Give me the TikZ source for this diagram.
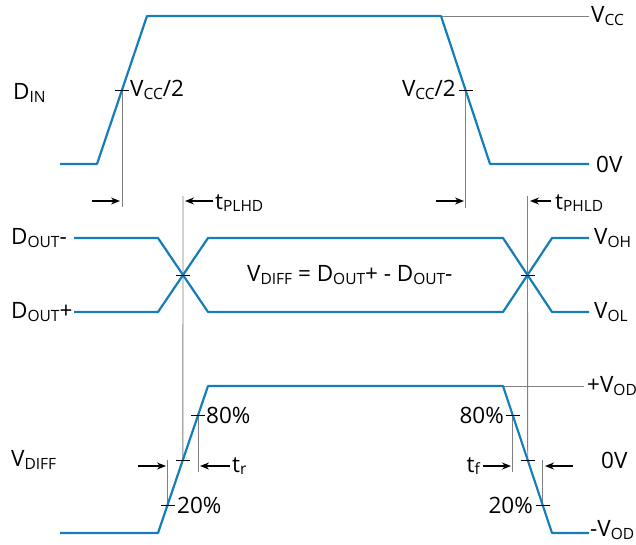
\documentclass[tikz,border=0pt]{standalone}
\usepackage{fontspec}
\setmainfont{Open Sans}
\usetikzlibrary{arrows.meta}
\definecolor{wave}{RGB}{22,125,185}
\newcommand\subtxt[1]{\raisebox{-2.5pt}{\fontsize{15.5}{16}\selectfont #1}}

\begin{document}
\begin{tikzpicture}[x=1pt,y=-1pt,line join=round,
  sig/.style={wave,line width=2.2pt},
  ref/.style={gray,line width=0.9pt},
  tickm/.style={black,line width=0.9pt},
  dim/.style={-{Stealth[length=9pt,width=7pt]},line width=1.3pt},
  lbl/.style={font=\fontsize{22.5}{25}\selectfont,inner sep=1pt}]
  \useasboundingbox (0,0) rectangle (636,544);
  % input
  \coordinate (I0) at (60,164);
  \coordinate (I1) at (97,164);
  \coordinate (I2) at (147,16);
  \coordinate (I3) at (441,16);
  \coordinate (I4) at (490,164);
  \coordinate (I5) at (589,164);
  \coordinate (Ha) at (122,90);
  \coordinate (Hb) at (465.5,90);
  % outputs
  \coordinate (A0) at (74,238);
  \coordinate (A1) at (158,238);
  \coordinate (A2) at (208,312);
  \coordinate (A3) at (503,312);
  \coordinate (A4) at (552,238);
  \coordinate (A5) at (589,238);
  \coordinate (B0) at (74,312);
  \coordinate (B1) at (158,312);
  \coordinate (B2) at (208,238);
  \coordinate (B3) at (503,238);
  \coordinate (B4) at (552,312);
  \coordinate (B5) at (589,312);
  \coordinate (X1) at (183,275);
  \coordinate (X2) at (527.5,275);
  % differential
  \coordinate (V0) at (60,533);
  \coordinate (V1) at (158,533);
  \coordinate (V2) at (208,386);
  \coordinate (V3) at (503,386);
  \coordinate (V4) at (552,533);
  \coordinate (V5) at (589,533);
  \coordinate (R8) at (198.1,415);
  \coordinate (R5) at (182.8,460);
  \coordinate (R2) at (167.5,505);
  \coordinate (F8) at (512.7,415);
  \coordinate (F5) at (527.7,460);
  \coordinate (F2) at (542.7,505);

  \draw[ref] (I3) -- (589,16);
  \draw[ref] (V3) -- (584,386);
  \draw[ref] (Ha) -- ++(0,117);
  \draw[ref] (Hb) -- ++(0,118);
  \draw[ref] (R5) -- (X1) -- ++(0,-79);
  \draw[ref] (F5) -- (X2) -- ++(0,-79);
  \draw[ref] (R8) -- ++(0,57);
  \draw[ref] (R2) -- ++(0,-45);
  \draw[ref] (F8) -- ++(0,57);
  \draw[ref] (F2) -- ++(0,-45);

  \draw[sig] (I0) -- (I1) -- (I2) -- (I3) -- (I4) -- (I5);
  \draw[sig] (A0) -- (A1) -- (A2) -- (A3) -- (A4) -- (A5);
  \draw[sig] (B0) -- (B1) -- (B2) -- (B3) -- (B4) -- (B5);
  \draw[sig] (V0) -- (V1) -- (V2) -- (V3) -- (V4) -- (V5);

  \foreach \p in {Ha,Hb,X1,X2,R8,R5,R2,F8,F5,F2}
    \draw[tickm] (\p) ++(-7,0) -- ++(14,0);

  \draw[dim] (92,201) -- (120,201);
  \draw[dim] (213,201) -- (185,201);
  \draw[dim] (436,201) -- (464,201);
  \draw[dim] (551,201) -- (530,201);
  \draw[dim] (138,466) -- (166,466);
  \draw[dim] (230,466) -- (200,466);
  \draw[dim] (483,466) -- (511,466);
  \draw[dim] (573,466) -- (545,466);

  \node[lbl,anchor=west] (din) at (12,93) {D\subtxt{IN}};
  \node[lbl,anchor=west] (hlfa) at (129,90) {V\subtxt{CC}/2};
  \node[lbl,anchor=east] (hlfb) at (457,90) {V\subtxt{CC}/2};
  \node[lbl,anchor=west] (vcc) at (590,16) {V\subtxt{CC}};
  \node[lbl,anchor=west] (zin) at (595,164) {0V};
  \node[lbl,anchor=west] (tplh) at (214,203) {t\subtxt{PLHD}};
  \node[lbl,anchor=west] (tphl) at (554,203) {t\subtxt{PHLD}};
  \node[lbl,anchor=west] (dm) at (10,238) {D\subtxt{OUT}-};
  \node[lbl,anchor=west] (dp) at (10,312) {D\subtxt{OUT}+};
  \node[lbl,anchor=west] (voh) at (593,238) {V\subtxt{OH}};
  \node[lbl,anchor=west] (vol) at (593,312) {V\subtxt{OL}};
  \node[lbl,anchor=west] (eqn) at (246,275) {V\subtxt{DIFF} = D\subtxt{OUT}+ - D\subtxt{OUT}-};
  \node[lbl,anchor=west] (vdif) at (10,460) {V\subtxt{DIFF}};
  \node[lbl,anchor=west] (r80) at (205,415) {80\%};
  \node[lbl,anchor=west] (r20) at (176,505) {20\%};
  \node[lbl,anchor=west] (tr) at (231,466) {t\subtxt{r}};
  \node[lbl,anchor=east] (f80) at (505,415) {80\%};
  \node[lbl,anchor=east] (f20) at (534,505) {20\%};
  \node[lbl,anchor=east] (tf) at (481,466) {t\subtxt{f}};
  \node[lbl,anchor=west] (zd) at (600,460) {0V};
  \node[lbl,anchor=west] (vodp) at (586,386) {+V\subtxt{OD}};
  \node[lbl,anchor=west] (vodm) at (589,530) {-V\subtxt{OD}};
\end{tikzpicture}
\end{document}
